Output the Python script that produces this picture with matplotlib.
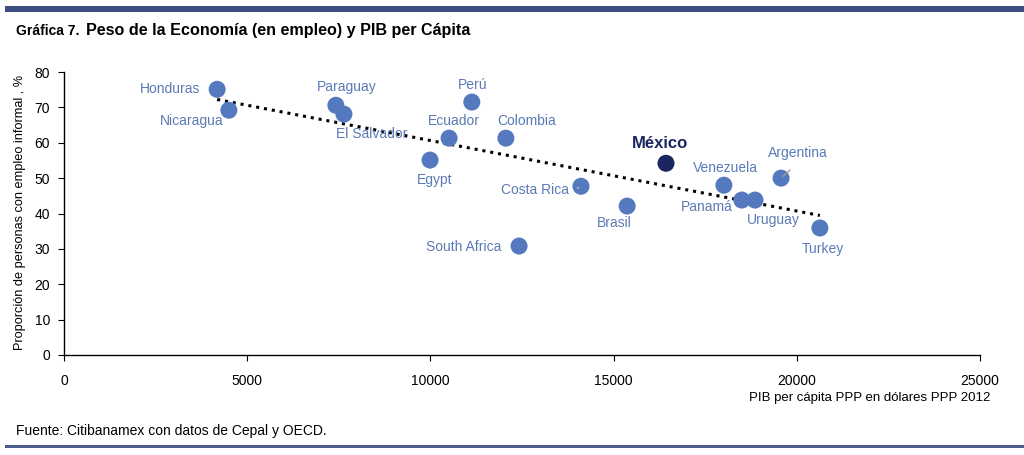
import matplotlib.pyplot as plt
import numpy as np

plt.rcParams['font.family'] = ['Liberation Sans', 'DejaVu Sans']

countries = ['Honduras', 'Nicaragua', 'Paraguay', 'El Salvador', 'Perú', 'Ecuador',
             'Colombia', 'Egypt', 'Costa Rica', 'South Africa', 'Brasil', 'México',
             'Venezuela', 'Panamá', 'Uruguay', 'Argentina', 'Turkey']
pib = [4180, 4500, 7420, 7640, 11130, 10510, 12060, 9990, 14110, 12420, 15370, 16430,
       18010, 18500, 18860, 19570, 20630]
informal = [75.1, 69.2, 70.6, 68.1, 71.5, 61.3, 61.3, 55.1, 47.7, 30.8, 42.1, 54.2,
            48.0, 43.8, 43.8, 50.0, 35.9]
# label offsets in pixels (text centre minus point)
offsets = [(-47, 0), (-37, -11), (11, 18), (28, -20), (1, 17), (5, 17), (21, 17),
           (5, -20), (-46, -4), (-55, -1), (-13, -17), (-6, 20), (2, 17), (-35, -7),
           (18, -20), (17, 25), (3, -21)]

blue = '#5479BE'
navy = '#1B2560'
lbl = '#5A7AB5'

fig = plt.figure(figsize=(10.24, 4.55), dpi=100)
ax = fig.add_axes([64/1024, 1-355/455, (980-64)/1024, (355-72)/455])

cols = [navy if c == 'México' else blue for c in countries]
ax.scatter(pib, informal, s=150, c=cols, zorder=3, linewidths=0)

# tendencia lineal
m, b = np.polyfit(pib, informal, 1)
xs = np.array([min(pib), max(pib)])
ax.plot(xs, m*xs + b, color='black', linestyle=(0, (1, 1.6)), linewidth=2.2, zorder=2)

for c, x, y, (dx, dy) in zip(countries, pib, informal, offsets):
    if c == 'México':
        ax.annotate(c, (x, y), xytext=(dx, dy), textcoords='offset pixels',
                    ha='center', va='center', fontsize=12, fontweight='bold', color=navy, zorder=4)
    else:
        ax.annotate(c, (x, y), xytext=(dx, dy), textcoords='offset pixels',
                    ha='center', va='center', fontsize=10, color=lbl, zorder=4)

# leader lines
ax.annotate('', (19570, 50.0), xytext=(11, 10), textcoords='offset pixels',
            arrowprops=dict(arrowstyle='-', color='#A0A0A0', lw=1), zorder=4)
ax.annotate('', (14110, 47.7), xytext=(-6, -3), textcoords='offset pixels',
            arrowprops=dict(arrowstyle='-', color='#C8C8C8', lw=1), zorder=4)

ax.set_xlim(0, 25000)
ax.set_ylim(0, 80)
ax.set_xticks(range(0, 25001, 5000))
ax.set_yticks(range(0, 81, 10))
for s in ['top', 'right']:
    ax.spines[s].set_visible(False)
for s in ['left', 'bottom']:
    ax.spines[s].set_color('black')
    ax.spines[s].set_linewidth(1)
ax.tick_params(axis='both', direction='out', length=4, labelsize=10, colors='black')
ax.tick_params(axis='x', pad=10)
ax.tick_params(axis='y', pad=6)

fig.text(20/1024, 1-212/455, 'Proporción de personas con empleo informal , %', rotation=90,
         ha='center', va='center', fontsize=9.2)
fig.text(990/1024, 1-398/455, 'PIB per cápita PPP en dólares PPP 2012', ha='right',
         va='center', fontsize=9.5)
fig.text(16/1024, 1-431/455, 'Fuente: Citibanamex con datos de Cepal y OECD.', ha='left',
         va='center', fontsize=10)

fig.text(16/1024, 1-31/455, 'Gráfica 7.', ha='left', va='center', fontsize=10, fontweight='bold')
fig.text(86/1024, 1-30/455, 'Peso de la Economía (en empleo) y PIB per Cápita', ha='left',
         va='center', fontsize=11.6, fontweight='bold')

fig.add_artist(plt.Rectangle((5/1024, 1-12/455), 1, 6/455, transform=fig.transFigure,
                             color='#3E4D80', linewidth=0))
fig.add_artist(plt.Rectangle((5/1024, 1-448/455), 1, 3/455, transform=fig.transFigure,
                             color='#4B5B8C', linewidth=0))

fig.savefig('out.png', dpi=100)
